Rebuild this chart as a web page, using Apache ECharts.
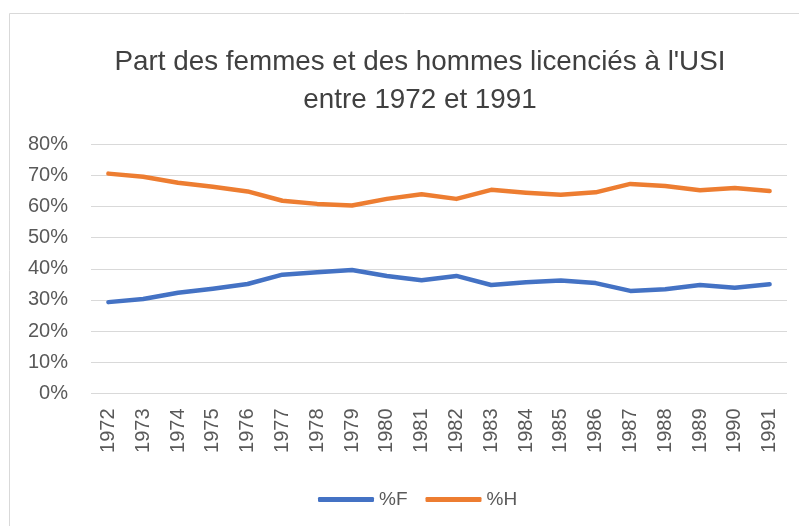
<!DOCTYPE html>
<html>
<head>
<meta charset="utf-8">
<script src="https://cdn.jsdelivr.net/npm/echarts@6/dist/echarts.min.js"></script>
<style>
  html, body { margin: 0; padding: 0; background: #fff; }
  #main { width: 799px; height: 526px; }
</style>
</head>
<body>
<div id="main"></div>
<script>
const years = ['1972', '1973', '1974', '1975', '1976', '1977', '1978', '1979', '1980', '1981',
  '1982', '1983', '1984', '1985', '1986', '1987', '1988', '1989', '1990', '1991'];
// parts en %
const partF = [29.3, 30.3, 32.3, 33.6, 35.1, 38.1, 38.9, 39.6, 37.7, 36.3,
  37.7, 34.8, 35.7, 36.2, 35.4, 32.9, 33.4, 34.8, 33.9, 35.0];
const partH = [70.5, 69.5, 67.6, 66.3, 64.8, 61.8, 60.8, 60.3, 62.4, 63.9,
  62.4, 65.3, 64.4, 63.7, 64.5, 67.2, 66.5, 65.2, 65.9, 64.9];
const seriesNames = ['%F', '%H'];

const chart = echarts.init(document.getElementById('main'), null, { renderer: 'canvas' });
const font = 'Liberation Sans, Arial, sans-serif';

const option = {
  animation: false,
  textStyle: { fontFamily: font },
  graphic: [{
    type: 'rect',
    shape: { x: 9.5, y: 13.5, width: 820, height: 540 },
    style: { fill: 'none', stroke: '#d9d9d9', lineWidth: 1 },
    silent: true
  }],
  title: {
    text: "Part des femmes et des hommes licenciés à l'USI\nentre 1972 et 1991",
    left: 415,
    top: 38,
    textAlign: 'center',
    textStyle: {
      fontFamily: font,
      fontSize: 27.8,
      fontWeight: 'normal',
      color: '#404040',
      lineHeight: 38
    }
  },
  legend: {
    data: seriesNames.map(n => ({ name: n, icon: 'roundRect' })),
    left: 313,
    top: 485,
    itemWidth: 56,
    itemHeight: 5,
    itemGap: 18,
    itemStyle: { borderWidth: 0 },
    textStyle: { fontFamily: font, fontSize: 19, color: '#595959' }
  },
  grid: {
    left: 91,
    right: 12,
    top: 144,
    bottom: 132.5,
    containLabel: false
  },
  xAxis: {
    type: 'category',
    data: years,
    boundaryGap: true,
    axisLine: { show: false },
    axisTick: { show: false },
    axisLabel: {
      rotate: 90,
      interval: 0,
      margin: 15,
      fontFamily: font,
      fontSize: 20,
      color: '#595959'
    }
  },
  yAxis: {
    type: 'value',
    min: 0,
    max: 80,
    interval: 10,
    axisLine: { show: false },
    axisTick: { show: false },
    splitLine: { lineStyle: { color: '#d9d9d9', width: 1 } },
    axisLabel: {
      formatter: '{value}%',
      margin: 23,
      fontFamily: font,
      fontSize: 20,
      color: '#595959'
    }
  },
  series: [{
    name: seriesNames[0],
    type: 'line',
    data: partF,
    symbol: 'none',
    color: '#4472C4',
    lineStyle: { width: 4.5, color: '#4472C4', cap: 'round', join: 'round' }
  }, {
    name: seriesNames[1],
    type: 'line',
    data: partH,
    symbol: 'none',
    color: '#ED7D31',
    lineStyle: { width: 4.5, color: '#ED7D31', cap: 'round', join: 'round' }
  }]
};

chart.setOption(option);
</script>
</body>
</html>
